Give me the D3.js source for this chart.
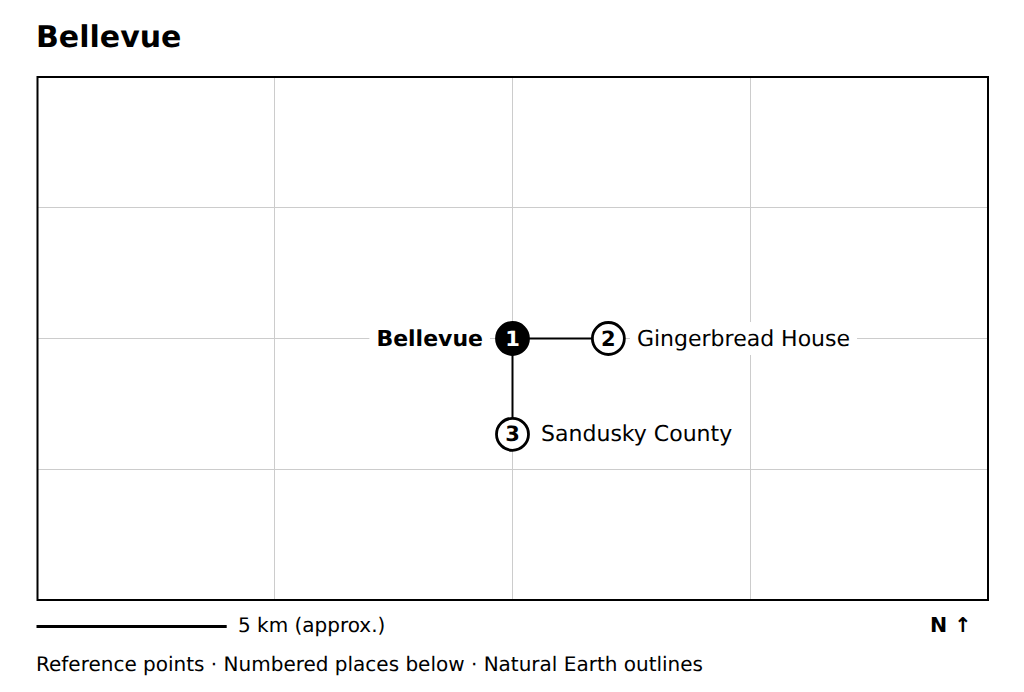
<!DOCTYPE html>
<html><head><meta charset="utf-8">
<script src="https://cdnjs.cloudflare.com/ajax/libs/d3/7.8.5/d3.min.js"></script>
<style>html,body{margin:0;padding:0;background:#fff}svg{display:block}text{font-family:"DejaVu Sans",sans-serif;fill:#000;text-rendering:geometricPrecision}</style>
</head><body><svg id="c" width="1024" height="692"></svg>
<script>
// Offsets from the town centre, km (east, north)
const placeNames = ["Bellevue", "Gingerbread House", "Sandusky County"];
const placeEast = [0, 2.52, 0];
const placeNorth = [0, 0, -2.52];
const placeNumbers = ["1", "2", "3"];
const gridEast = [-6.25, 0, 6.25];
const gridNorth = [3.44, 0, -3.44];
const scaleBarKm = 5;
const titleText = "Bellevue";
const scaleText = "5 km (approx.)";
const northText = "N ↑";
const sourceText = "Reference points · Numbered places below · Natural Earth outlines";

const L = 37.5, R = 988, T = 77, B = 600;
const x = d3.scaleLinear().domain([-12.5, 12.5]).range([37, 988]);
const y = d3.scaleLinear().domain([6.88, -6.88]).range([T, B]);
const svg = d3.select("#c");
const px = v => Math.floor(x(v)) + 0.5;
const py = v => Math.floor(y(v)) + 0.5;

svg.append("text").attr("x", 36).attr("y", 47).attr("font-size", 30).attr("font-weight", "bold").text(titleText);

// graticule
const grid = svg.append("g").attr("stroke", "#cccccc").attr("stroke-width", 1);
grid.selectAll(".gx").data(gridEast).join("line").attr("x1", px).attr("x2", px).attr("y1", T).attr("y2", B);
grid.selectAll(".gy").data(gridNorth).join("line").attr("y1", py).attr("y2", py).attr("x1", L).attr("x2", R);

const places = placeNames.map((name, i) => ({name, e: placeEast[i], n: placeNorth[i], num: placeNumbers[i], i}));

// connectors
svg.append("g").attr("stroke", "#000").attr("stroke-width", 2).selectAll("line").data(places.slice(1)).join("line")
  .attr("x1", x(0)).attr("y1", y(0)).attr("x2", d => x(d.e)).attr("y2", d => y(d.n));

// labels with white plates
const R0 = 16;
const lab = svg.append("g").selectAll("g").data(places).join("g");
lab.append("text")
  .attr("x", d => d.i === 0 ? x(d.e) - R0 - 13.5 : x(d.e) + R0 + 12.6)
  .attr("y", d => y(d.n) + 7.1)
  .attr("text-anchor", d => d.i === 0 ? "end" : "start")
  .attr("font-size", 22)
  .attr("font-weight", d => d.i === 0 ? "bold" : "normal")
  .text(d => d.name);
lab.insert("rect", "text").each(function(d) {
  const t = this.parentNode.querySelector("text").getBBox();
  d3.select(this).attr("x", t.x - 7).attr("y", y(d.n) - 16.5).attr("width", t.width + 14).attr("height", 33).attr("fill", "#fff");
});

// nodes
const node = svg.append("g").selectAll("g").data(places).join("g");
node.append("circle").attr("cx", d => x(d.e)).attr("cy", d => y(d.n)).attr("r", R0)
  .attr("fill", d => d.i === 0 ? "#000" : "#fff").attr("stroke", "#000").attr("stroke-width", 2.8);
node.append("text").attr("x", d => x(d.e)).attr("y", d => y(d.n) + 7).attr("text-anchor", "middle")
  .attr("font-size", 21).attr("font-weight", "bold").style("fill", d => d.i === 0 ? "#fff" : "#000").text(d => d.num);

// frame
svg.append("rect").attr("x", L).attr("y", T).attr("width", R - L).attr("height", B - T)
  .attr("fill", "none").attr("stroke", "#000").attr("stroke-width", 2);

// scale bar
svg.append("line").attr("x1", 36.5).attr("x2", 36.5 + (x(scaleBarKm) - x(0))).attr("y1", 626.5).attr("y2", 626.5)
  .attr("stroke", "#000").attr("stroke-width", 3);
svg.append("text").attr("x", 238).attr("y", 632).attr("font-size", 20).text(scaleText);
svg.append("text").attr("x", 930).attr("y", 632).attr("font-size", 20.5).attr("font-weight", "bold").text(northText);
svg.append("text").attr("x", 36).attr("y", 671).attr("font-size", 20).text(sourceText);
</script></body></html>
